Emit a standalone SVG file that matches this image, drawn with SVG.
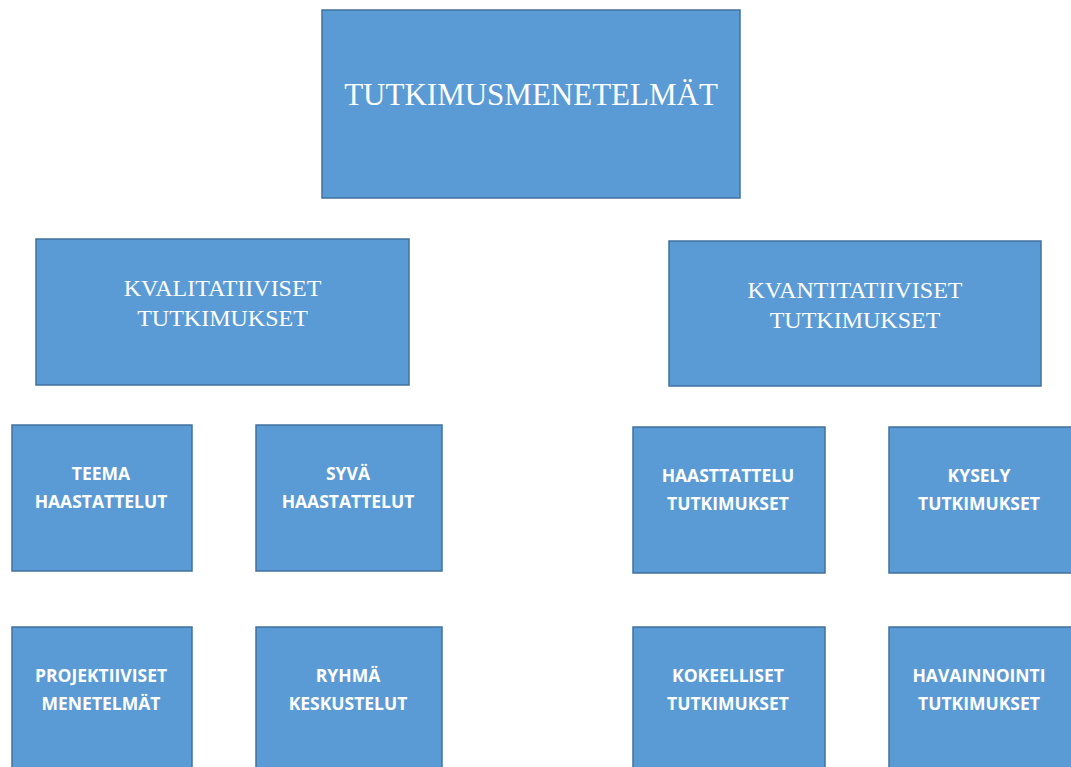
<svg xmlns="http://www.w3.org/2000/svg" width="1071" height="767" viewBox="0 0 1071 767">
<style>
.box{fill:#5B9BD5;stroke:#41719C;stroke-width:1.5}
.serif{font-family:"Liberation Serif","Times New Roman",serif;fill:#FFFFFF;text-anchor:middle}
.sans{font-family:"Open Sans","Liberation Sans",Arial,sans-serif;font-weight:bold;font-size:17.5px;fill:#FFFFFF;text-anchor:middle}
</style>
<rect width="1071" height="767" fill="#FFFFFF"/>
<g id="connectors"></g>
<g id="node-root">
<rect class="box" x="322" y="10" width="418" height="188"/>
<text class="serif" x="531" y="105" font-size="31">TUTKIMUSMENETELMÄT</text>
</g>
<g id="node-kvalitatiiviset">
<rect class="box" x="36" y="239" width="373" height="146"/>
<text class="serif" x="222.5" y="296" font-size="24">KVALITATIIVISET</text>
<text class="serif" x="222.5" y="326" font-size="24">TUTKIMUKSET</text>
</g>
<g id="node-kvantitatiiviset">
<rect class="box" x="669" y="241" width="372" height="145"/>
<text class="serif" x="855" y="298" font-size="24">KVANTITATIIVISET</text>
<text class="serif" x="855" y="328" font-size="24">TUTKIMUKSET</text>
</g>
<g id="node-teema">
<rect class="box" x="12" y="425" width="180" height="146"/>
<text class="sans" x="101" y="480">TEEMA</text>
<text class="sans" x="101" y="508">HAASTATTELUT</text>
</g>
<g id="node-syva">
<rect class="box" x="256" y="425" width="186" height="146"/>
<text class="sans" x="348" y="480">SYVÄ</text>
<text class="sans" x="348" y="508">HAASTATTELUT</text>
</g>
<g id="node-haasttattelu">
<rect class="box" x="633" y="427" width="192" height="146"/>
<text class="sans" x="728" y="482">HAASTTATTELU</text>
<text class="sans" x="728" y="510">TUTKIMUKSET</text>
</g>
<g id="node-kysely">
<rect class="box" x="889" y="427" width="190" height="146"/>
<text class="sans" x="979" y="482">KYSELY</text>
<text class="sans" x="979" y="510">TUTKIMUKSET</text>
</g>
<g id="node-projektiiviset">
<rect class="box" x="12" y="627" width="180" height="150"/>
<text class="sans" x="101" y="682">PROJEKTIIVISET</text>
<text class="sans" x="101" y="710">MENETELMÄT</text>
</g>
<g id="node-ryhma">
<rect class="box" x="256" y="627" width="186" height="150"/>
<text class="sans" x="348" y="682">RYHMÄ</text>
<text class="sans" x="348" y="710">KESKUSTELUT</text>
</g>
<g id="node-kokeelliset">
<rect class="box" x="633" y="627" width="192" height="150"/>
<text class="sans" x="728" y="682">KOKEELLISET</text>
<text class="sans" x="728" y="710">TUTKIMUKSET</text>
</g>
<g id="node-havainnointi">
<rect class="box" x="889" y="627" width="190" height="150"/>
<text class="sans" x="979" y="682">HAVAINNOINTI</text>
<text class="sans" x="979" y="710">TUTKIMUKSET</text>
</g>
</svg>
